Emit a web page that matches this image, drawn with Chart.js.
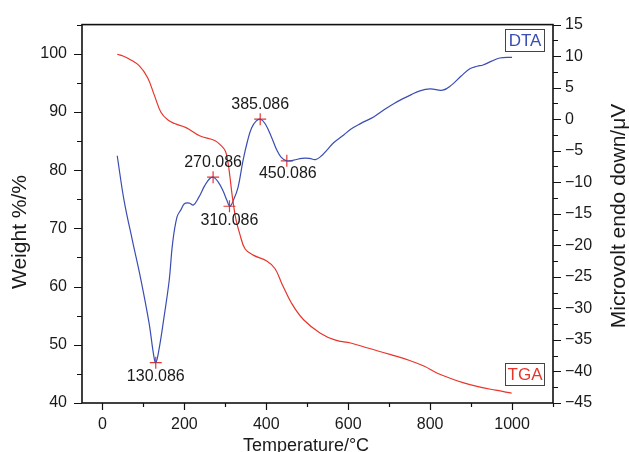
<!DOCTYPE html>
<html>
<head>
<meta charset="utf-8">
<script src="https://cdn.jsdelivr.net/npm/chart.js@4.4.0/dist/chart.umd.min.js"></script>
<style>
  html, body { margin: 0; padding: 0; background: #fff; }
  #wrap { width: 629px; height: 452px; }
</style>
</head>
<body>
<div id="wrap"><canvas id="mychart" width="629" height="452"></canvas></div>
<script>
// TGA curve (left axis, weight %)
const tgaTemp = [36, 50, 65, 90, 110, 127, 143, 160, 176, 204, 237, 274, 290, 300, 306, 311, 316, 320, 326, 335, 348, 368, 401, 421, 438, 462, 491, 532, 569, 606, 650, 704, 750, 786, 815, 847, 880, 917, 960, 999];
const tgaWeight = [99.9, 99.6, 99.1, 97.9, 95.9, 92.8, 89.9, 88.6, 88.0, 87.3, 85.9, 85.1, 84.2, 83.3, 81.5, 79.0, 76.0, 74.0, 71.5, 69.1, 66.5, 65.4, 64.4, 63.1, 60.5, 57.1, 54.3, 52.0, 50.8, 50.3, 49.4, 48.3, 47.3, 46.3, 45.2, 44.3, 43.5, 42.8, 42.2, 41.7];

// DTA curve (right axis, microvolt)
const dtaTemp = [36, 53, 73, 94, 114, 124, 130, 138, 150, 163, 171, 182, 192, 200, 212, 222, 235, 250, 262, 271, 282, 294, 304, 311, 320, 331, 343, 354, 364, 375, 386, 398, 413, 425, 436, 450, 467, 487, 505, 520, 535, 548, 565, 589, 606, 630, 663, 690, 712, 735, 754, 775, 800, 831, 852, 875, 897, 915, 929, 950, 970, 1000];
const dtaSignal = [-5.8, -13.0, -19.2, -25.5, -32.4, -37.0, -38.6, -36.5, -31.5, -25.5, -19.8, -15.5, -14.3, -13.4, -13.3, -13.6, -12.4, -10.5, -9.4, -9.2, -9.9, -11.3, -12.9, -13.8, -12.8, -10.8, -6.6, -3.5, -1.4, -0.3, 0.0, -0.8, -2.9, -4.8, -6.0, -6.6, -6.5, -6.2, -6.2, -6.4, -5.8, -4.9, -3.7, -2.5, -1.6, -0.7, 0.4, 1.6, 2.5, 3.3, 3.9, 4.5, 4.8, 4.6, 5.4, 6.8, 8.0, 8.4, 8.6, 9.2, 9.7, 9.8];

// marked peaks on the DTA curve
const peakTemp = [130.086, 270.086, 310.086, 385.086, 450.086];
const peakSignal = [-38.6, -9.2, -13.8, 0.0, -6.6];

const xTicks = [0, 200, 400, 600, 800, 1000];
const weightTicks = [40, 50, 60, 70, 80, 90, 100];
const signalTicks = [-45, -40, -35, -30, -25, -20, -15, -10, -5, 0, 5, 10, 15];

const RED = "#e8352c";
const BLUE = "#3a4db3";
const FONT = "'Liberation Sans', Arial, Helvetica, sans-serif";

// label offsets for the peak values (above / below the marker)
const peakLabelDy = [14, -15, 14, -15, 13];
const peakLabelDx = [0, 0, 0, 0, 1];

function toPoints(xs, ys) {
  return xs.map((x, i) => ({ x: x, y: ys[i] }));
}

const decorPlugin = {
  id: "decor",
  afterDraw(chart) {
    const ctx = chart.ctx;
    const a = chart.chartArea;
    const sx = chart.scales.x;
    const sW = chart.scales.yW;
    const sV = chart.scales.yV;
    ctx.save();

    // frame
    ctx.strokeStyle = "#111";
    ctx.lineWidth = 1.6;
    ctx.strokeRect(a.left, a.top, a.right - a.left, a.bottom - a.top);

    // tick marks
    ctx.lineWidth = 1.2;
    ctx.beginPath();
    for (let v = 0; v <= 1100; v += 100) {
      const px = Math.round(sx.getPixelForValue(v)) + 0.5;
      const len = v % 200 === 0 ? 7 : 4;
      ctx.moveTo(px, a.bottom);
      ctx.lineTo(px, a.bottom + len);
    }
    for (let v = 40; v <= 105; v += 5) {
      const py = Math.round(sW.getPixelForValue(v)) + 0.5;
      const len = v % 10 === 0 ? 8 : 5;
      ctx.moveTo(a.left, py);
      ctx.lineTo(a.left - len, py);
    }
    for (let v = -45; v <= 15; v += 2.5) {
      const py = Math.round(sV.getPixelForValue(v)) + 0.5;
      const len = v % 5 === 0 ? 8 : 5;
      ctx.moveTo(a.right, py);
      ctx.lineTo(a.right + len, py);
    }
    ctx.stroke();

    // peak labels
    const meta = chart.getDatasetMeta(2);
    ctx.fillStyle = "#1a1a1a";
    ctx.font = "16px " + FONT;
    ctx.textAlign = "center";
    ctx.textBaseline = "middle";
    meta.data.forEach((pt, i) => {
      ctx.fillText(peakTemp[i].toFixed(3), pt.x + peakLabelDx[i], pt.y + peakLabelDy[i]);
    });

    // series tags
    function tag(text, color, x, y, w, h) {
      ctx.fillStyle = "#fff";
      ctx.fillRect(x, y, w, h);
      ctx.strokeStyle = "#444";
      ctx.lineWidth = 1;
      ctx.strokeRect(x + 0.5, y + 0.5, w, h);
      ctx.fillStyle = color;
      ctx.font = "17px " + FONT;
      ctx.textAlign = "center";
      ctx.textBaseline = "middle";
      ctx.fillText(text, x + w / 2 + 0.5, y + h / 2 + 1);
    }
    tag("DTA", BLUE, 505, 29, 39, 22);
    tag("TGA", RED, 505, 363, 39, 22);

    // axis titles
    ctx.fillStyle = "#1a1a1a";
    ctx.font = "21px " + FONT;
    ctx.textAlign = "center";
    ctx.textBaseline = "middle";
    ctx.save();
    ctx.translate(20, 232);
    ctx.rotate(-Math.PI / 2);
    ctx.fillText("Weight %/%", 0, 0);
    ctx.restore();
    ctx.save();
    ctx.translate(619, 216);
    ctx.rotate(-Math.PI / 2);
    ctx.fillText("Microvolt endo down/\u03bcV", 0, 0);
    ctx.restore();
    ctx.font = "18px " + FONT;
    ctx.textBaseline = "alphabetic";
    ctx.fillText("Temperature/\u00b0C", 306, 451);

    ctx.restore();
  },
};

let myChart;
function create_chart() {
  const canvas = document.querySelector("#mychart");
  const tickFont = { family: FONT, size: 16 };
  myChart = new Chart(canvas, {
    type: "line",
    data: {
      datasets: [
        {
          label: "TGA",
          data: toPoints(tgaTemp, tgaWeight),
          yAxisID: "yW",
          borderColor: RED,
          borderWidth: 1.2,
          pointRadius: 0,
          tension: 0.4,
          fill: false,
        },
        {
          label: "DTA",
          data: toPoints(dtaTemp, dtaSignal),
          yAxisID: "yV",
          borderColor: BLUE,
          borderWidth: 1.2,
          pointRadius: 0,
          tension: 0.4,
          fill: false,
        },
        {
          label: "peaks",
          data: toPoints(peakTemp, peakSignal),
          yAxisID: "yV",
          showLine: false,
          pointStyle: "cross",
          pointRadius: 6,
          borderColor: RED,
          borderWidth: 1.2,
        },
      ],
    },
    options: {
      responsive: false,
      animation: false,
      devicePixelRatio: 1,
      layout: { padding: { top: 24, left: 0, right: 0, bottom: 0 } },
      plugins: { legend: { display: false }, tooltip: { enabled: false } },
      scales: {
        x: {
          type: "linear",
          min: -50,
          max: 1100,
          grid: { display: false, drawTicks: false },
          border: { display: false },
          afterBuildTicks: (s) => { s.ticks = xTicks.map((v) => ({ value: v })); },
          afterFit: (s) => { s.height = 49; },
          ticks: { autoSkip: false, maxRotation: 0, padding: 12, font: tickFont, color: "#1a1a1a", callback: (v) => String(v) },
        },
        yW: {
          position: "left",
          min: 40,
          max: 105,
          grid: { display: false, drawTicks: false },
          border: { display: false },
          afterBuildTicks: (s) => { s.ticks = weightTicks.map((v) => ({ value: v })); },
          afterFit: (s) => { s.width = 82; },
          ticks: { autoSkip: false, padding: 15, font: tickFont, color: "#1a1a1a", callback: (v) => String(v) },
        },
        yV: {
          position: "right",
          min: -45,
          max: 15,
          grid: { display: false, drawTicks: false },
          border: { display: false },
          afterBuildTicks: (s) => { s.ticks = signalTicks.map((v) => ({ value: v })); },
          afterFit: (s) => { s.width = 76; },
          ticks: {
            autoSkip: false,
            padding: 12,
            font: tickFont,
            color: "#1a1a1a",
            callback: (v) => String(v).replace("-", "\u2212"),
          },
        },
      },
    },
    plugins: [decorPlugin],
  });
}

create_chart();
</script>
</body>
</html>
